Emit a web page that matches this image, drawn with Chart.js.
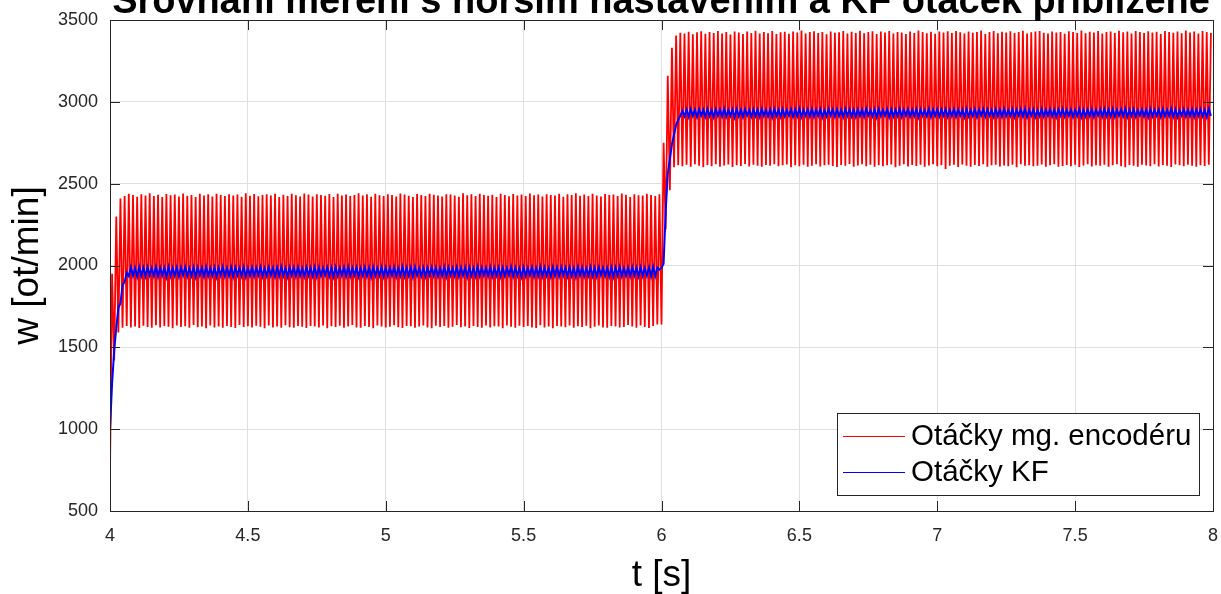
<!DOCTYPE html>
<html><head><meta charset="utf-8">
<script src="https://cdn.jsdelivr.net/npm/chart.js@4.4.1/dist/chart.umd.min.js"></script>
<style>html,body{margin:0;padding:0;background:#fff;overflow:hidden}canvas{display:block}</style>
</head><body>
<canvas id="c" width="1221" height="594"></canvas>
<script>
const chartTitle = 'Srovnání měření s horším nastavením a KF otáček přiblížené';
const xAxisTitle = 't [s]';
const yAxisTitle = 'w [ot/min]';
const seriesLabels = ['Otáčky mg. encodéru', 'Otáčky KF'];
const xTickValues = [4, 4.5, 5, 5.5, 6, 6.5, 7, 7.5, 8];
const yTickValues = [500, 1000, 1500, 2000, 2500, 3000, 3500];
const tStart = 4, tSwitch = 6, tEnd = 8;

// encoder speed, samples 4.0 s .. 6.0 s (alternating trough / peak)
const encoderA = [
740,1950,1420,2300,1590,2410,1620,2425,1630,2438,1622,2430,
1628,2420,1618,2436,1632,2428,1624,2441,1619,2425,1635,2432,
1621,2418,1630,2437,1626,2429,1617,2434,1633,2422,1625,2440,
1629,2426,1620,2431,1636,2419,1623,2438,1627,2427,1616,2435,
1634,2421,1622,2439,1628,2430,1619,2424,1631,2436,1625,2428,
1618,2433,1637,2420,1624,2441,1629,2426,1621,2437,1632,2423,
1626,2430,1617,2435,1633,2427,1622,2439,1628,2418,1620,2432,
1635,2425,1623,2438,1619,2429,1630,2421,1626,2440,1618,2434,
1631,2422,1627,2436,1621,2431,1634,2426,1616,2437,1629,2419,
1624,2439,1632,2428,1620,2433,1627,2424,1636,2430,1622,2441,
1619,2427,1630,2435,1625,2420,1617,2438,1633,2429,1628,2425,
1621,2436,1626,2431,1635,2422,1623,2440,1618,2434,1631,2426,
1629,2419,1620,2437,1627,2430,1634,2425,1622,2439,1616,2432,
1632,2428,1624,2421,1630,2436,1619,2433,1626,2427,1637,2420,
1623,2441,1628,2429,1618,2435,1631,2424,1625,2438,1620,2430,
1634,2426,1621,2432,1629,2418,1627,2439,1617,2431,1633,2423,
1626,2437,1619,2428,1632,2434,1624,2425,1630,2440,1622,2429,
1618,2433,1635,2422,1621,2436,1628,2430,1616,2427,1631,2438,
1627,2420,1623,2435,1634,2431,1620,2441,1629,2426,1625,2433,
1632,2424,1617,2439,1626,2428,1633,2421,1622,2437,1619,2430,
1630,2434,1628,2425,1621,2440,1624,2432,1636,2419,1627,2436,
1620,2429,1633,2427,1625,2438,1618,2431,1631,2424,1640,2435
];
// encoder speed, samples 6.0 s .. 8.0 s
const encoderB = [
1640,2750,2220,3160,2460,3330,2600,3405,2612,3422,2606,3418,
2615,3428,2603,3413,2618,3425,2609,3431,2601,3416,2614,3427,
2607,3420,2619,3433,2604,3418,2611,3426,2617,3412,2602,3429,
2613,3424,2608,3415,2620,3430,2605,3421,2616,3434,2610,3417,
2603,3427,2614,3419,2609,3432,2618,3414,2606,3425,2612,3428,
2617,3416,2601,3429,2613,3423,2607,3435,2615,3418,2604,3426,
2610,3431,2619,3420,2605,3427,2612,3413,2616,3430,2608,3422,
2602,3425,2614,3433,2609,3417,2620,3428,2603,3421,2611,3434,
2618,3419,2606,3426,2615,3431,2604,3415,2613,3429,2607,3424,
2612,3432,2617,3418,2601,3427,2610,3423,2619,3414,2605,3430,
2614,3421,2608,3435,2616,3426,2603,3419,2611,3428,2618,3416,
2606,3429,2613,3424,2590,3431,2609,3420,2615,3433,2602,3425,
2617,3418,2610,3430,2604,3422,2614,3427,2608,3436,2619,3415,
2603,3426,2612,3432,2616,3419,2605,3428,2611,3423,2607,3431,
2615,3420,2601,3427,2618,3434,2609,3417,2613,3425,2606,3429,
2610,3433,2617,3422,2604,3418,2612,3430,2619,3424,2603,3427,
2608,3416,2614,3431,2607,3426,2616,3421,2602,3435,2611,3419,
2618,3428,2605,3423,2613,3432,2609,3418,2615,3427,2604,3430,
2612,3421,2619,3434,2606,3425,2601,3429,2614,3417,2610,3433,
2603,3426,2616,3420,2611,3431,2607,3424,2618,3428,2605,3415,
2614,3432,2609,3427,2602,3422,2617,3430,2612,3419,2606,3435,
2615,3424,2610,3429,2604,3418,2613,3433,2608,3426,2616,3421
];
// Kalman filter estimate, 4.0 s .. 6.0 s
const kfA = [
1000,1280,1480,1620,1740,1770,1880,1900,1955,1935,1988,1938,
1984,1932,1990,1937,1986,1934,1989,1940,1983,1936,1991,1933,
1987,1939,1985,1931,1992,1936,1984,1938,1988,1933,1986,1941,
1990,1935,1983,1937,1989,1932,1987,1940,1985,1934,1991,1936,
1984,1938,1988,1931,1986,1939,1992,1935,1983,1937,1989,1933,
1987,1940,1985,1936,1990,1932,1984,1938,1988,1935,1986,1941,
1991,1934,1983,1937,1989,1939,1985,1933,1987,1936,1992,1938,
1984,1932,1988,1940,1986,1935,1990,1937,1983,1934,1989,1939,
1985,1936,1991,1933,1987,1938,1984,1941,1988,1935,1986,1932,
1990,1937,1983,1939,1989,1934,1992,1936,1985,1940,1987,1933,
1984,1938,1988,1935,1986,1931,1991,1937,1983,1939,1990,1934,
1987,1936,1985,1940,1989,1933,1984,1938,1992,1935,1986,1937,
1988,1932,1990,1939,1983,1936,1987,1934,1985,1941,1989,1938,
1986,1935,1984,1937,1991,1933,1988,1940,1983,1936,1990,1934,
1985,1939,1987,1932,1989,1938,1984,1935,1992,1937,1986,1940,
1983,1936,1990,1934,1985,1939,1988,1933,1987,1937,1984,1941,
1991,1935,1986,1938,1983,1932,1989,1936,1985,1940,1988,1934,
1984,1937,1992,1935,1987,1939,1983,1933,1990,1938,1986,1936,
1989,1940,1985,1934,1988,1937,1984,1931,1991,1939,1987,1935,
1983,1938,1990,1936,1986,1933,1989,1941,1985,1937,1984,1934,
1988,1932,1987,1939,1991,1935,1983,1938,1986,1936,1990,1940,
1985,1934,1989,1937,1984,1939,1987,1933,1992,1936,1988,1975
];
// Kalman filter estimate, 6.0 s .. 8.0 s
const kfB = [
1985,2010,2330,2560,2650,2740,2800,2860,2890,2915,2945,2912,
2953,2909,2956,2914,2950,2908,2955,2916,2951,2910,2957,2913,
2949,2907,2954,2915,2952,2911,2958,2909,2950,2914,2953,2906,
2956,2912,2951,2908,2955,2916,2949,2910,2954,2913,2952,2909,
2957,2915,2950,2911,2953,2907,2956,2914,2951,2909,2955,2912,
2949,2916,2954,2910,2952,2913,2958,2908,2950,2915,2953,2911,
2956,2909,2951,2914,2955,2907,2949,2912,2957,2916,2952,2910,
2954,2913,2950,2908,2956,2915,2953,2911,2951,2909,2955,2914,
2952,2910,2957,2916,2949,2912,2954,2907,2956,2913,2950,2915,
2955,2908,2953,2911,2951,2914,2958,2909,2952,2916,2954,2910,
2950,2913,2956,2907,2953,2915,2949,2912,2957,2908,2951,2914,
2954,2911,2952,2916,2955,2909,2950,2913,2956,2910,2953,2915,
2951,2907,2957,2912,2949,2914,2954,2908,2952,2916,2955,2911,
2953,2915,2950,2909,2956,2913,2951,2910,2958,2912,2949,2914,
2955,2908,2952,2916,2954,2911,2957,2907,2950,2915,2953,2909,
2949,2913,2956,2910,2951,2914,2955,2912,2952,2908,2954,2916,
2957,2911,2950,2915,2953,2909,2949,2913,2956,2907,2951,2912,
2952,2914,2955,2908,2950,2916,2954,2910,2957,2913,2953,2911,
2956,2909,2951,2915,2953,2912,2958,2908,2950,2914,2955,2910,
2949,2916,2954,2911,2952,2907,2956,2913,2951,2915,2953,2909,
2955,2912,2950,2914,2957,2910,2953,2908,2949,2916,2954,2911,
2951,2913,2956,2909,2952,2915,2955,2912,2950,2907,2957,2914
];

function toPoints(first, second) {
  const pts = [];
  const s1 = (tSwitch - tStart) / first.length;
  const s2 = (tEnd - tSwitch) / second.length;
  first.forEach((v, i) => pts.push({x: tStart + i * s1, y: v}));
  second.forEach((v, i) => pts.push({x: tSwitch + i * s2, y: v}));
  return pts;
}

const FONT = '"Liberation Sans", Arial, Helvetica, sans-serif';
const AXIS_COLOR = '#262626';
const GRID_COLOR = '#dfdfdf';

const titlePlugin = {
  id: 'cutTitle',
  afterDraw(chart) {
    const ctx = chart.ctx;
    ctx.save();
    let size = 34;
    ctx.font = `bold ${size}px ${FONT}`;
    const w = ctx.measureText(chartTitle).width;
    size = size * 1098 / w;
    ctx.font = `bold ${size}px ${FONT}`;
    ctx.fillStyle = '#000';
    ctx.textAlign = 'center';
    ctx.textBaseline = 'alphabetic';
    ctx.fillText(chartTitle, 661, 13);
    ctx.restore();
  }
};

const frameTicksPlugin = {
  id: 'frameTicks',
  afterDatasetsDraw(chart) {
    const {ctx, chartArea: a, scales: {x, y}} = chart;
    ctx.save();
    ctx.strokeStyle = AXIS_COLOR;
    ctx.lineWidth = 1;
    ctx.beginPath();
    ctx.rect(Math.round(a.left) + 0.5, Math.round(a.top) + 0.5, Math.round(a.right - a.left), Math.round(a.bottom - a.top));
    const L = 10;
    xTickValues.forEach(v => {
      const px = Math.round(x.getPixelForValue(v)) + 0.5;
      ctx.moveTo(px, a.bottom); ctx.lineTo(px, a.bottom - L);
      ctx.moveTo(px, a.top); ctx.lineTo(px, a.top + L);
    });
    yTickValues.forEach(v => {
      const py = Math.round(y.getPixelForValue(v)) + 0.5;
      ctx.moveTo(a.left, py); ctx.lineTo(a.left + L, py);
      ctx.moveTo(a.right, py); ctx.lineTo(a.right - L, py);
    });
    ctx.stroke();
    ctx.restore();
  }
};

const legendPlugin = {
  id: 'boxLegend',
  afterDraw(chart) {
    const ctx = chart.ctx;
    const box = {l: 837.5, t: 413.5, r: 1199.5, b: 495.5};
    ctx.save();
    ctx.fillStyle = '#fff';
    ctx.fillRect(box.l, box.t, box.r - box.l, box.b - box.t);
    ctx.strokeStyle = AXIS_COLOR;
    ctx.lineWidth = 1;
    ctx.strokeRect(box.l, box.t, box.r - box.l, box.b - box.t);
    const rows = [436, 472];
    ctx.font = `29.5px ${FONT}`;
    ctx.textBaseline = 'middle';
    ctx.textAlign = 'left';
    seriesLabels.forEach((label, i) => {
      const ds = chart.data.datasets[i];
      ctx.strokeStyle = ds.borderColor;
      ctx.lineWidth = 1;
      ctx.beginPath();
      ctx.moveTo(843, rows[i] + 0.5); ctx.lineTo(905, rows[i] + 0.5);
      ctx.stroke();
      ctx.fillStyle = '#000';
      ctx.fillText(ds.label, 911, rows[i] + 1);
    });
    ctx.restore();
  }
};

new Chart(document.getElementById('c'), {
  type: 'line',
  data: {
    datasets: [
      {label: seriesLabels[0], data: toPoints(encoderA, encoderB), borderColor: '#ff0000', borderWidth: 1.8, pointRadius: 0, tension: 0, order: 2},
      {label: seriesLabels[1], data: toPoints(kfA, kfB), borderColor: '#0000ff', borderWidth: 2, pointRadius: 0, tension: 0, order: 1}
    ]
  },
  options: {
    responsive: false,
    animation: false,
    devicePixelRatio: 1,
    layout: {padding: {left: 0, right: 8, top: 20, bottom: 0}},
    plugins: {legend: {display: false}, tooltip: {enabled: false}, title: {display: false}},
    scales: {
      x: {
        type: 'linear', min: tStart, max: tEnd,
        afterBuildTicks: s => { s.ticks = xTickValues.map(v => ({value: v})); },
        afterFit: s => { s.height = 83; s.paddingLeft = 0; s.paddingRight = 0; },
        ticks: {color: AXIS_COLOR, font: {family: FONT, size: 18}, padding: 14, maxRotation: 0, autoSkip: false, callback: v => String(v)},
        grid: {color: GRID_COLOR, drawTicks: false},
        border: {display: true, color: AXIS_COLOR, width: 1},
        title: {display: true, text: xAxisTitle, color: '#000', font: {family: FONT, size: 37, lineHeight: 1}, padding: {top: 0, bottom: 0}}
      },
      y: {
        type: 'linear', min: 500, max: 3500,
        afterBuildTicks: s => { s.ticks = yTickValues.map(v => ({value: v})); },
        afterFit: s => { s.width = 110; s.paddingTop = 0; s.paddingBottom = 0; },
        ticks: {color: AXIS_COLOR, font: {family: FONT, size: 18}, padding: 12, autoSkip: false, callback: v => String(v)},
        grid: {color: GRID_COLOR, drawTicks: false},
        border: {display: true, color: AXIS_COLOR, width: 1},
        title: {display: true, text: yAxisTitle, color: '#000', font: {family: FONT, size: 37, lineHeight: 1}, padding: {top: 9, bottom: 0}}
      }
    }
  },
  plugins: [frameTicksPlugin, legendPlugin, titlePlugin]
});
</script>
</body></html>
